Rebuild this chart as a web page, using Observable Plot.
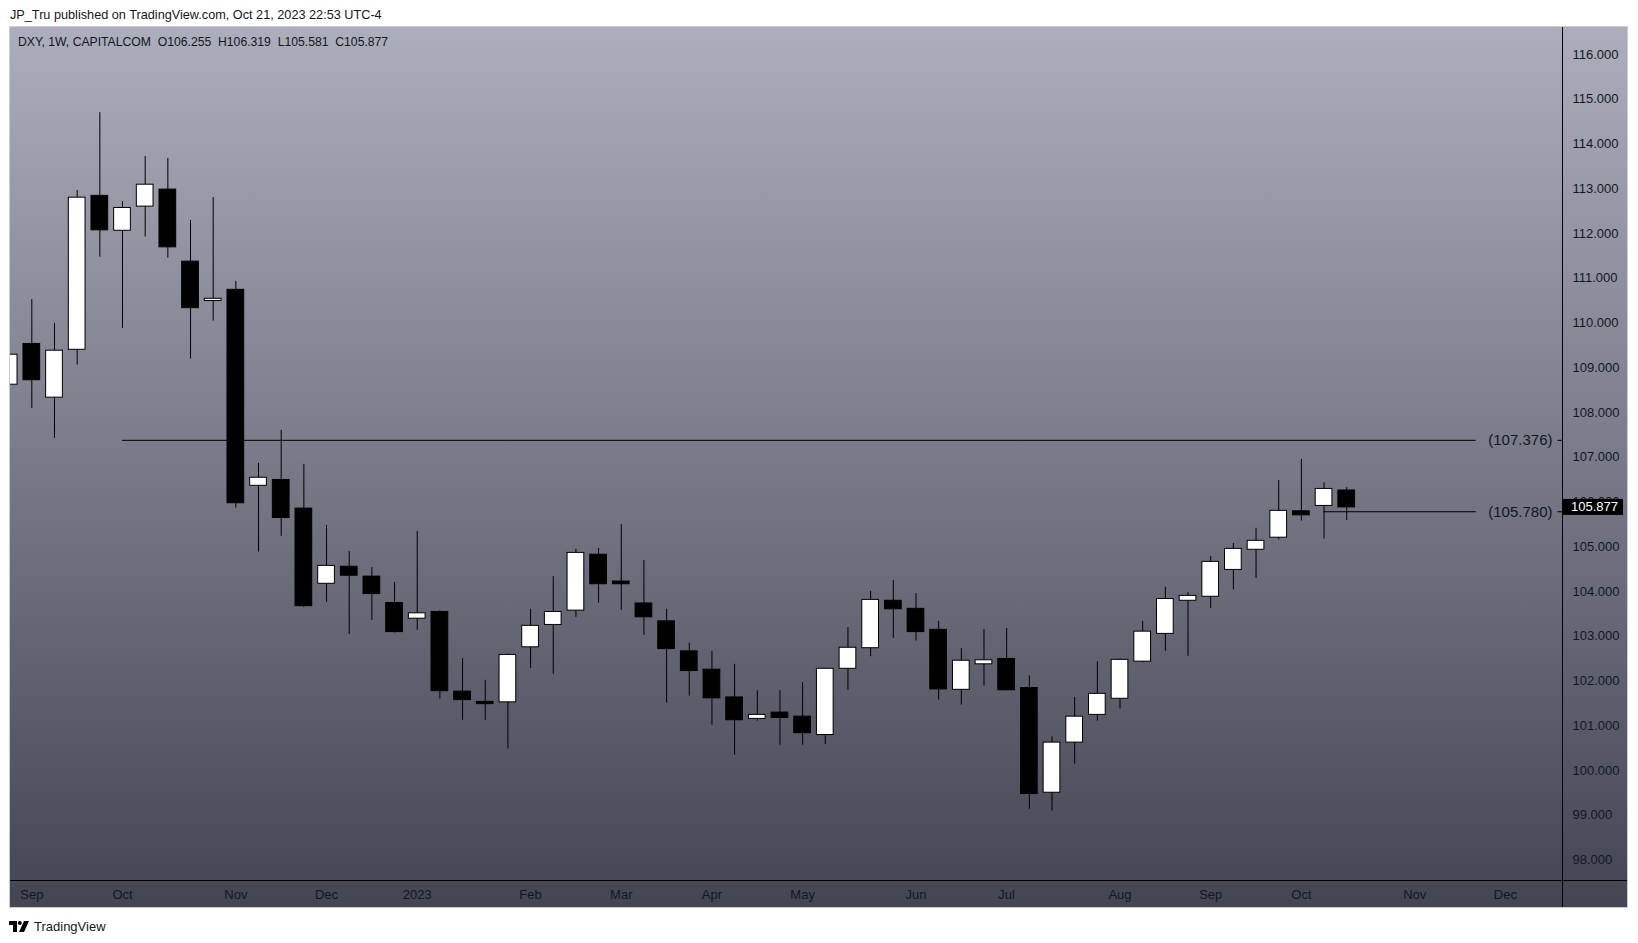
<!DOCTYPE html>
<html>
<head>
<meta charset="utf-8">
<script src="https://cdn.jsdelivr.net/npm/d3@7"></script>
<script src="https://cdn.jsdelivr.net/npm/@observablehq/plot@0.6"></script>
<style>
html, body { margin: 0; padding: 0; background: #fff; }
body { width: 1638px; height: 943px; position: relative; overflow: hidden;
  font-family: "Liberation Sans", Arial, sans-serif; color: #131722; }
#hdr { position: absolute; left: 10px; top: 6px; font-size: 12.7px; line-height: 18px; white-space: pre; }
#panel { position: absolute; left: 10px; top: 27px; width: 1617px; height: 880px;
  background: linear-gradient(to bottom, #acaebb, #434552); box-shadow: 0 0 0 1px #c9cbd3; }
#panel svg { position: absolute; left: 0; top: 0; overflow: visible; }
#legend { position: absolute; left: 8px; top: 7px; font-size: 12.2px; line-height: 16px; white-space: pre; color: #131722; }
.vline { position: absolute; left: 1552px; top: 0; width: 1px; height: 880px; background: #000; }
.hline { position: absolute; left: 0; top: 853px; width: 1617px; height: 1px; background: #000; }
#footer { position: absolute; left: 9px; top: 917px; height: 18px; display: flex; align-items: center; font-size: 13px; color: #131722; }
#footer svg { margin-right: 5px; }
</style>
</head>
<body>
<div id="hdr">JP_Tru published on TradingView.com, Oct 21, 2023 22:53 UTC-4</div>
<div id="panel">
  <div id="chart"></div>
  <div class="vline"></div>
  <div class="hline"></div>
  <div id="legend">DXY, 1W, CAPITALCOM  O106.255  H106.319  L105.581  C105.877</div>
</div>
<div id="footer">
  <svg width="20" height="11" viewBox="0 0 20 11"><path d="M0 0H8V11H4V4H0Z" fill="#000"/><circle cx="10.8" cy="2" r="2" fill="#000"/><path d="M15 0H20L15 11H10Z" fill="#000"/></svg>
  <span>TradingView</span>
</div>
<script>
// ---- Data (weekly DXY candles, CAPITALCOM) ----
const dates = [
  "2022-08-29","2022-09-05","2022-09-12","2022-09-19","2022-09-26","2022-10-03","2022-10-10","2022-10-17",
  "2022-10-24","2022-10-31","2022-11-07","2022-11-14","2022-11-21","2022-11-28","2022-12-05","2022-12-12",
  "2022-12-19","2022-12-26","2023-01-02","2023-01-09","2023-01-16","2023-01-23","2023-01-30","2023-02-06",
  "2023-02-13","2023-02-20","2023-02-27","2023-03-06","2023-03-13","2023-03-20","2023-03-27","2023-04-03",
  "2023-04-10","2023-04-17","2023-04-24","2023-05-01","2023-05-08","2023-05-15","2023-05-22","2023-05-29",
  "2023-06-05","2023-06-12","2023-06-19","2023-06-26","2023-07-03","2023-07-10","2023-07-17","2023-07-24",
  "2023-07-31","2023-08-07","2023-08-14","2023-08-21","2023-08-28","2023-09-04","2023-09-11","2023-09-18",
  "2023-09-25","2023-10-02","2023-10-09","2023-10-16"
];
const opens = [
  108.62,109.53,108.33,109.40,112.84,112.06,112.60,112.98,
  111.37,110.49,110.74,106.36,106.49,105.85,104.17,104.55,
  104.33,103.74,103.39,103.54,101.76,101.53,101.52,102.75,
  103.25,103.57,104.82,104.22,103.73,103.33,102.66,102.25,
  101.63,101.15,101.29,101.20,100.79,102.27,102.73,103.79,
  103.61,103.14,101.80,102.37,102.49,101.84,99.50,100.62,
  101.24,101.60,102.43,103.05,103.79,103.88,104.48,104.93,
  105.20,105.79,105.91,106.255
];
const highs = [
  109.50,110.52,109.99,112.96,114.70,112.71,113.72,113.68,
  112.29,112.80,110.93,106.86,107.60,106.84,105.47,104.89,
  104.53,104.20,105.34,103.57,102.50,102.01,102.60,103.60,
  104.33,104.94,104.96,105.49,104.69,103.60,102.84,102.66,
  102.37,101.78,101.78,101.96,102.28,103.19,104.00,104.24,
  103.95,103.33,102.72,103.15,103.17,102.11,100.75,101.63,
  102.43,102.49,103.33,104.09,103.97,104.78,105.07,105.41,
  106.48,106.95,106.43,106.319
];
const lows = [
  108.45,108.09,107.42,109.06,111.47,109.88,111.92,111.45,
  109.19,110.04,105.86,104.88,105.23,103.64,103.76,103.04,
  103.35,103.07,103.13,101.59,101.12,101.12,100.48,102.28,
  102.15,103.42,103.74,103.58,103.02,101.50,101.66,101.01,
  100.34,101.10,100.56,100.56,100.58,101.79,102.54,102.95,
  102.89,101.57,101.46,101.88,101.78,99.13,99.09,100.14,
  101.10,101.37,102.40,102.66,102.55,103.62,104.03,104.29,
  105.15,105.57,105.17,105.581
];
const closes = [
  109.29,108.72,109.38,112.80,112.07,112.57,113.09,111.69,
  110.33,110.54,105.97,106.54,105.64,103.67,104.57,104.35,
  103.94,103.09,103.51,101.77,101.57,101.48,102.58,103.23,
  103.54,104.86,104.16,104.16,103.42,102.71,102.22,101.61,
  101.12,101.24,101.17,100.83,102.27,102.74,103.81,103.60,
  103.09,101.81,102.45,102.46,101.79,99.47,100.62,101.20,
  101.71,102.47,103.10,103.83,103.90,104.66,104.95,105.13,
  105.80,105.70,106.29,105.877
];
// Horizontal levels drawn on the chart
const levelValues = [107.376, 105.780];
const levelStarts = ["2022-10-03", "2023-10-09"];
// Axis ticks
const yTicks = [98,99,100,101,102,103,104,105,106,107,108,109,110,111,112,113,114,115,116];
const xTickDates = ["2022-09-05","2022-10-03","2022-11-07","2022-12-05","2023-01-02","2023-02-06","2023-03-06",
  "2023-04-03","2023-05-01","2023-06-05","2023-07-03","2023-08-07","2023-09-04","2023-10-02","2023-11-06","2023-12-04"];
const xTickLabels = ["Sep","Oct","Nov","Dec","2023","Feb","Mar","Apr","May","Jun","Jul","Aug","Sep","Oct","Nov","Dec"];
const lastClose = 105.877;

// ---- Build ----
const DAY = 864e5;
const candles = dates.map((d, i) => ({date: new Date(d), open: opens[i], high: highs[i], low: lows[i], close: closes[i]}));
const levels = levelValues.map((v, i) => ({value: v, start: new Date(levelStarts[i])}));
const xTicks = xTickDates.map((d, i) => ({date: new Date(d), label: xTickLabels[i]}));

const xMin = new Date(Date.UTC(2022, 7, 29, 10));
const xMax = new Date(Date.UTC(2023, 11, 21, 15));
const lineEnd = new Date(Date.UTC(2023, 10, 25, 0));
const dashStart = new Date(+xMax - 1.4 * DAY);
const half = 2.58 * DAY;

function priceBox(index, scales, values, dims) {
  const y = scales.y(lastClose);
  const x0 = dims.width - dims.marginRight;
  const g = d3.create("svg:g");
  g.append("rect").attr("x", x0 + 1).attr("y", y - 8).attr("width", 60).attr("height", 16).attr("fill", "#000");
  g.append("text").attr("x", x0 + 9).attr("y", y).attr("dy", "0.35em").attr("text-anchor", "start")
    .attr("fill", "#fff").attr("font-size", 13).attr("font-family", "Liberation Sans, Arial, sans-serif")
    .text(lastClose.toFixed(3));
  return g.node();
}

const chart = Plot.plot({
  width: 1617,
  height: 880,
  marginLeft: 0,
  marginRight: 65,
  marginTop: 0,
  marginBottom: 27,
  style: {background: "transparent", fontFamily: "Liberation Sans, Arial, sans-serif", fontSize: "13px", color: "#131722"},
  x: {type: "utc", domain: [xMin, xMax], axis: null},
  y: {domain: [97.538, 116.6035], axis: null},
  marks: [
    Plot.axisY(yTicks, {anchor: "right", tickSize: 0, tickPadding: 10, tickFormat: d => d.toFixed(3), fill: "#131722", fontSize: 13}),
    Plot.text(xTicks, {x: "date", text: "label", frameAnchor: "bottom", dy: 14, lineAnchor: "middle", fill: "#131722", fontSize: 13,
      fontWeight: d => d.label === "2023" ? "bold" : "normal"}),
    Plot.ruleY(levels, {y: "value", x1: "start", x2: () => lineEnd, stroke: "#000", strokeWidth: 1}),
    Plot.ruleY(levels, {y: "value", x1: () => dashStart, x2: () => xMax, stroke: "#000", strokeWidth: 1}),
    Plot.text(levels, {y: "value", text: d => `(${d.value.toFixed(3)})`, frameAnchor: "right", textAnchor: "end", dx: -10, fill: "#131722", fontSize: 15}),
    Plot.ruleX(candles, {x: "date", y1: "low", y2: "high", stroke: "#000", strokeWidth: 1, clip: true}),
    Plot.rect(candles, {x1: d => new Date(+d.date - half), x2: d => new Date(+d.date + half), y1: "open", y2: "close",
      fill: d => d.close >= d.open ? "#fff" : "#000", stroke: "#000", strokeWidth: 1, clip: true}),
    priceBox
  ]
});
document.getElementById("chart").appendChild(chart);
</script>
</body>
</html>
